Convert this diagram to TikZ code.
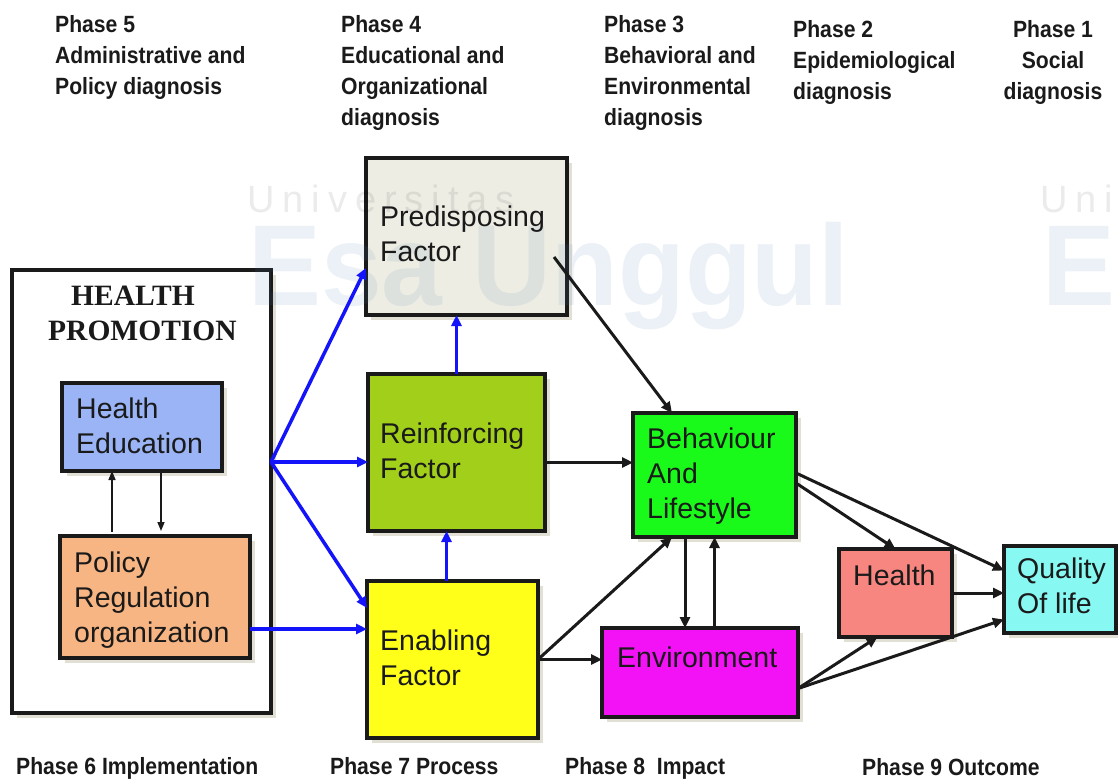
\documentclass[tikz,border=0pt]{standalone}
\usepackage{fontspec}
\setmainfont{Liberation Sans}
\newfontfamily\phasefont[FakeStretch=0.9]{Liberation Sans Bold}
\newfontfamily\titlefont{Liberation Serif Bold}
\newfontfamily\markfont[LetterSpace=21]{Liberation Sans}
\newfontfamily\markboldfont[FakeStretch=0.95]{Liberation Sans Bold}
\usetikzlibrary{arrows.meta,shadows}

\definecolor{heFill}{RGB}{155,180,245}
\definecolor{polFill}{RGB}{247,181,131}
\definecolor{preFill}{RGB}{238,237,228}
\definecolor{reiFill}{RGB}{162,208,26}
\definecolor{enaFill}{RGB}{255,255,26}
\definecolor{behFill}{RGB}{26,250,26}
\definecolor{envFill}{RGB}{242,18,245}
\definecolor{heaFill}{RGB}{248,134,128}
\definecolor{qolFill}{RGB}{136,248,242}
\definecolor{arrowBlue}{RGB}{20,20,250}
\definecolor{lineBlack}{RGB}{26,26,26}
\definecolor{shadowTone}{RGB}{226,223,212}
\definecolor{markTone}{RGB}{77,128,179}

\begin{document}
\begin{tikzpicture}[x=1pt,y=-1pt,
  box/.style={draw=lineBlack,line width=4pt,inner sep=0pt,outer sep=0pt,
    drop shadow={shadow xshift=5pt,shadow yshift=-5pt,fill=shadowTone,opacity=1}},
  % multi-line texts are anchored at the baseline of their last line
  boxtext/.style={anchor=base west,align=left,inner sep=0pt,text=lineBlack,
    font=\fontsize{28.5pt}{35pt}\selectfont},
  phase/.style={anchor=base west,align=left,inner sep=0pt,text=lineBlack,
    font=\phasefont\fontsize{23.5pt}{31pt}\selectfont},
  hptitle/.style={anchor=base west,inner sep=0pt,text=lineBlack,
    font=\titlefont\fontsize{29.5pt}{35pt}\selectfont},
  barrow/.style={draw=arrowBlue,line width=3.5pt,-{Triangle[length=11pt,width=10pt]}},
  karrow/.style={draw=lineBlack,line width=3pt,-{Triangle[length=11pt,width=10pt]}},
  thinarrow/.style={draw=lineBlack,line width=1.5pt,-{Triangle[length=9pt,width=7pt]}},
  marktext/.style={anchor=base west,inner sep=0pt,text=markTone,text opacity=0.11,
    font=\markboldfont\fontsize{115pt}{115pt}\selectfont},
  markthin/.style={anchor=base west,inner sep=0pt,text=black,text opacity=0.08,
    font=\markfont\fontsize{38pt}{38pt}\selectfont},
]
\useasboundingbox (0,0) rectangle (1118,780);
\fill[white] (0,0) rectangle (1118,780);

% ---------- phase headings ----------
\node[phase] (ph5) at (55,94) {Phase 5\\Administrative and\\Policy diagnosis};
\node[phase] (ph4) at (341,125) {Phase 4\\Educational and\\Organizational\\diagnosis};
\node[phase] (ph3) at (604,125) {Phase 3\\Behavioral and\\Environmental\\diagnosis};
\node[phase] (ph2) at (793,99) {Phase 2\\Epidemiological\\diagnosis};
\node[phase,anchor=base,align=center] (ph1) at (1053,99) {Phase 1\\Social\\diagnosis};

\node[phase] (ph6) at (16,774) {Phase 6 Implementation};
\node[phase] (ph7) at (330,774) {Phase 7 Process};
\node[phase] (ph8) at (565,774) {Phase 8\ \ Impact};
\node[phase] (ph9) at (862,775) {Phase 9 Outcome};

% ---------- boxes ----------
\node[box,fill=white,line width=4.5pt,minimum width=259pt,minimum height=443pt] (hp) at (141.5,491.5) {};
\node[box,fill=heFill,minimum width=160pt,minimum height=88pt] (he) at (142,427) {};
\node[box,fill=polFill,minimum width=190pt,minimum height=122pt] (pol) at (155,597) {};
\node[box,fill=preFill,minimum width=201pt,minimum height=157pt] (pre) at (466.5,236.5) {};
\node[box,fill=reiFill,minimum width=177pt,minimum height=157pt] (rei) at (456.5,452.5) {};
\node[box,fill=enaFill,minimum width=171pt,minimum height=157pt] (ena) at (452.5,659.5) {};
\node[box,fill=behFill,minimum width=163pt,minimum height=124pt] (beh) at (714.5,475) {};
\node[box,fill=envFill,minimum width=196pt,minimum height=89pt] (env) at (700,672.5) {};
\node[box,fill=heaFill,minimum width=113pt,minimum height=88pt] (hea) at (895.5,593) {};
\node[box,fill=qolFill,minimum width=112pt,minimum height=87pt] (qol) at (1060,589.5) {};

% ---------- watermark ----------
\node[markthin] (wmA) at (247,212) {Universitas};
\node[marktext] (wmB) at (248,305) {Esa Unggul};
\node[markthin] (wmC) at (1040,212) {Universitas};
\node[marktext] (wmD) at (1042,305) {Esa Unggul};
\node[marktext] (wmE) at (-605,305) {Esa Unggul};

% ---------- box texts ----------
\node[hptitle] (hpA) at (71,305) {HEALTH};
\node[hptitle] (hpB) at (48,340) {PROMOTION};
\node[boxtext] (heT) at (76,453) {Health\\Education};
\node[boxtext] (polT) at (74,642) {Policy\\Regulation\\organization};
\node[boxtext] (preT) at (380,261) {Predisposing\\Factor};
\node[boxtext] (reiT) at (380,478) {Reinforcing\\Factor};
\node[boxtext] (enaT) at (380,685) {Enabling\\Factor};
\node[boxtext] (behT) at (647,518) {Behaviour\\And\\Lifestyle};
\node[boxtext] (envT) at (617,667) {Environment};
\node[boxtext] (heaT) at (853,585) {Health};
\node[boxtext] (qolT) at (1017,613) {Quality\\Of life};

% ---------- connection points ----------
\coordinate (fan) at (271,462);
\coordinate (polOut) at ([yshift=-32pt]pol.east);
\coordinate (enaUp) at ([xshift=-6pt]ena.north);
\coordinate (preOut) at (554,257);
\coordinate (reiOut) at ([yshift=-10pt]rei.east);
\coordinate (behIn) at ([xshift=39pt]beh.north west);
\coordinate (behLow) at ([xshift=39pt]beh.south west);
\coordinate (behDown) at ([xshift=52pt]beh.south west);
\coordinate (behOutA) at ([yshift=2pt]beh.east);
\coordinate (behOutB) at ([yshift=-8pt]beh.east);
\coordinate (envOut) at ([yshift=-16pt]env.east);
\coordinate (heUp) at ([xshift=-30pt]he.south);
\coordinate (heDown) at ([xshift=19pt]he.south);

% ---------- blue arrows ----------
\draw[barrow] (fan) -- ([yshift=47pt]pre.south west);
\draw[barrow] (fan) -- (fan -| rei.west);
\draw[barrow] (fan) -- ([yshift=-27pt]ena.north west);
\draw[barrow] (polOut) -- (polOut -| ena.west);
\draw[barrow] (rei.north) -- (rei.north |- pre.south);
\draw[barrow] (enaUp) -- (enaUp |- rei.south);

% ---------- black arrows ----------
\draw[karrow] (preOut) -- (behIn);
\draw[karrow] (reiOut) -- (reiOut -| beh.west);
\draw[karrow] (ena.east) -- (behLow);
\draw[karrow] (ena.east) -- (ena.east -| env.west);
\draw[karrow] (behDown) -- (behDown |- env.north);
\draw[karrow] (env.north -| beh.south) -- (beh.south);
\draw[karrow] (behOutA) -- ([yshift=19pt]qol.west);
\draw[karrow] (behOutB) -- (hea.north);
\draw[karrow] (hea.east) -- (hea.east -| qol.west);
\draw[karrow] (envOut) -- ([xshift=-18pt]hea.south);
\draw[karrow] (envOut) -- ([yshift=-30pt]qol.west);

% ---------- arrows inside the health promotion box ----------
\draw[thinarrow,shorten <=4pt] (heUp |- pol.north) -- (heUp);
\draw[thinarrow,shorten >=5pt] (heDown) -- (heDown |- pol.north);
\end{tikzpicture}
\end{document}
